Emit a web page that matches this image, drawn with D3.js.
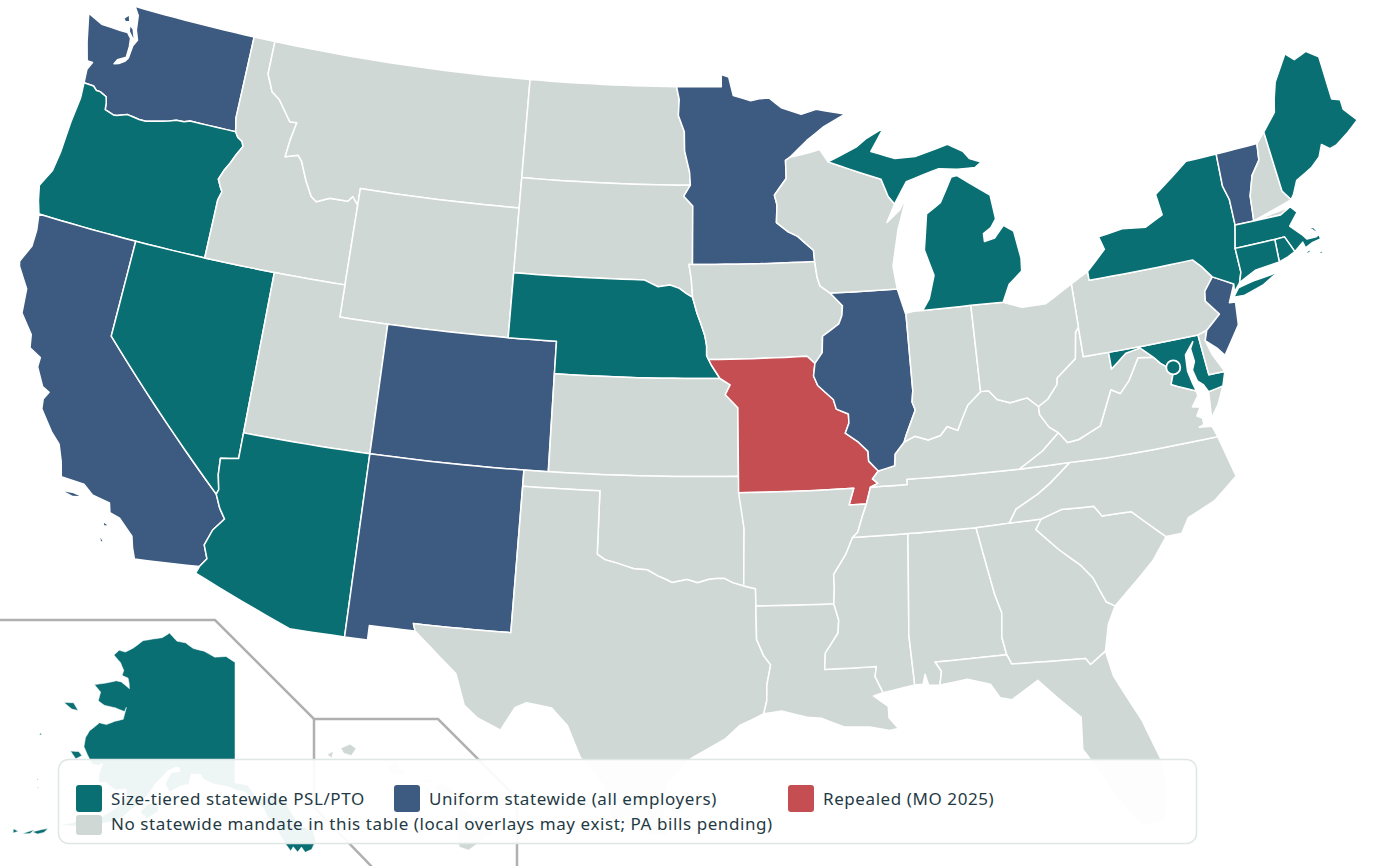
<!DOCTYPE html>
<html>
<head>
<meta charset="utf-8">
<script src="https://cdn.jsdelivr.net/npm/d3@7"></script>
<style>
  html, body { margin: 0; background: #fff; }
  svg { display: block; }
  text { font-family: "Noto Sans", sans-serif; }
</style>
</head>
<body>
<svg id="map" width="1400" height="866"></svg>
<script>
// status lists, from the legend
const sizeTiered = ["OR","NV","AZ","NE","MI","NY","MA","CT","RI","ME","MD","AK","DC"];
const uniform = ["WA","CA","CO","NM","MN","IL","VT","NJ"];
const repealed = ["MO"];

const legendLabels = [
  "Size-tiered statewide PSL/PTO",
  "Uniform statewide (all employers)",
  "Repealed (MO 2025)",
  "No statewide mandate in this table (local overlays may exist; PA bills pending)"
];

// shared borders, lon/lat
const columbia = [[-124.0,46.27],[-123.55,46.26],[-123.37,46.15],[-123.2,46.15],[-122.88,46.05],[-122.8,45.87],[-122.76,45.66],[-122.35,45.57],[-122.2,45.58],[-121.75,45.7],[-121.2,45.65],[-120.9,45.65],[-120.5,45.72],[-119.9,45.84],[-119.6,45.92],[-119.25,45.93],[-119.0,46.0],[-116.92,46.0]];
const snake = [[-116.92,46.0],[-116.78,45.85],[-116.55,45.75],[-116.46,45.6],[-116.67,45.32],[-116.85,45.02],[-117.05,44.75],[-117.2,44.45],[-117.05,44.24],[-116.93,44.1],[-117.03,43.83],[-117.03,42.0]];
const bitterroot = [[-116.05,49.0],[-116.05,47.97],[-115.7,47.45],[-115.3,47.25],[-114.95,46.93],[-114.65,46.65],[-114.33,46.66],[-114.47,46.1],[-114.55,45.56],[-114.0,45.68],[-113.8,45.52],[-113.45,44.95],[-113.1,44.5],[-112.85,44.37],[-112.3,44.55],[-111.5,44.55],[-111.32,44.72],[-111.05,44.48]];
const redNorth = [[-97.23,49.0],[-97.1,48.6],[-97.13,48.1],[-96.85,47.6],[-96.83,47.0],[-96.6,46.35],[-96.56,45.94]];
const mnDakota = [[-96.56,45.94],[-96.85,45.6],[-96.45,45.3],[-96.45,43.5]];
const bigSioux = [[-96.45,43.5],[-96.6,43.5],[-96.5,43.05],[-96.44,42.49]];
const niobrara = [[-104.05,43.0],[-98.5,43.0],[-97.9,42.8],[-97.4,42.86],[-97.0,42.76],[-96.7,42.6],[-96.44,42.49]];
const missouriIa = [[-96.44,42.49],[-96.25,42.0],[-96.1,41.7],[-95.92,41.3],[-95.85,41.0],[-95.85,40.7],[-95.77,40.58]];
const missouriNe = [[-95.77,40.58],[-95.65,40.4],[-95.31,40.0]];
const missouriKs = [[-95.31,40.0],[-94.9,39.8],[-95.1,39.5],[-94.6,39.1]];
const stCroix = [[-92.1,46.75],[-92.3,46.66],[-92.3,46.1],[-92.85,45.6],[-92.75,45.3],[-92.8,44.75],[-92.3,44.45],[-91.9,44.3],[-91.25,43.85],[-91.22,43.5]];
const missWiIa = [[-91.22,43.5],[-91.15,43.0],[-91.05,42.75],[-90.64,42.51]];
const missIlIa = [[-90.64,42.51],[-90.15,42.1],[-90.2,41.8],[-90.35,41.55],[-91.05,41.2],[-91.1,40.7],[-91.42,40.38]];
const missIlMo = [[-91.42,40.38],[-91.5,40.0],[-91.35,39.7],[-90.75,39.25],[-90.65,38.95],[-90.18,38.78],[-90.18,38.5],[-90.35,38.2],[-89.85,37.9],[-89.5,37.6],[-89.5,37.3],[-89.15,36.98]];
const missKyMo = [[-89.15,36.98],[-89.4,36.75],[-89.2,36.6],[-89.5,36.5]];
const missTnAr = [[-89.5,36.5],[-89.7,36.0],[-89.9,35.6],[-90.1,35.15],[-90.31,35.0]];
const missMsAr = [[-90.31,35.0],[-90.6,34.5],[-91.1,33.9],[-91.1,33.5],[-91.15,33.0]];
const missMsLa = [[-91.15,33.0],[-91.0,32.5],[-91.05,32.1],[-91.55,31.5],[-91.6,31.0]];
const moBoot = [[-89.5,36.5],[-89.7,36.0],[-90.37,36.0],[-90.15,36.5]];
const wabash = [[-87.53,41.72],[-87.53,39.35],[-87.6,39.0],[-87.5,38.75],[-87.95,38.0],[-88.05,37.8]];
const ohioKyIl = [[-89.15,36.98],[-88.5,37.1],[-88.45,37.45],[-88.05,37.8]];
const ohioKyIn = [[-88.05,37.8],[-87.6,37.95],[-87.1,37.8],[-86.6,37.9],[-86.3,38.15],[-85.9,38.0],[-85.7,38.3],[-85.4,38.73],[-84.82,39.1]];
const ohioKyOh = [[-84.82,39.1],[-84.5,39.1],[-84.2,38.8],[-83.7,38.65],[-83.0,38.73],[-82.6,38.42]];
const ohioOhWv = [[-82.6,38.42],[-82.2,38.6],[-81.75,39.0],[-81.7,39.2],[-80.85,39.7],[-80.67,40.5],[-80.52,40.64]];
const bigSandy = [[-82.6,38.42],[-82.6,38.17],[-82.3,37.75],[-81.97,37.54]];
const vaWv = [[-81.97,37.54],[-81.67,37.2],[-81.22,37.24],[-80.3,37.55],[-79.65,38.58],[-79.3,38.42],[-78.87,38.76],[-78.35,39.4],[-77.73,39.32]];
const potomacWv = [[-77.73,39.32],[-78.2,39.68],[-78.8,39.6],[-79.48,39.2],[-79.48,39.72]];
const potomacVa = [[-77.73,39.32],[-77.5,39.1],[-77.04,38.8],[-77.25,38.4],[-77.0,38.3],[-76.32,38.05]];
const kyVa = [[-81.97,37.54],[-82.7,37.05],[-83.68,36.6]];
const kyTn = [[-83.68,36.6],[-88.07,36.66],[-88.07,36.5],[-89.5,36.5]];
const vaTn = [[-83.68,36.6],[-81.7,36.59]];
const vaNc = [[-81.7,36.59],[-80.3,36.55],[-75.87,36.55]];
const ncTn = [[-81.7,36.59],[-82.6,36.03],[-83.1,35.77],[-84.0,35.4],[-84.32,35.0]];
const ncSc = [[-83.1,35.0],[-82.3,35.2],[-81.05,35.15],[-80.8,34.82],[-79.68,34.8],[-78.55,33.86]];
const savannah = [[-83.1,35.0],[-83.35,34.7],[-82.6,34.0],[-81.9,33.45],[-81.5,33.0],[-81.15,32.2],[-80.85,32.03]];
const chattahoochee = [[-85.6,34.98],[-85.18,32.87],[-85.0,32.3],[-85.1,31.55],[-85.0,31.0]];
const flSouth = [[-87.6,31.0],[-85.0,31.0],[-84.86,30.7],[-82.2,30.57],[-82.05,30.36],[-81.45,30.7]];
const perdido = [[-87.6,31.0],[-87.4,30.7],[-87.5,30.28]];
const alMs = [[-88.2,35.0],[-88.47,31.9],[-88.4,30.35]];
const tnSouth = [[-90.31,35.0],[-88.2,35.0],[-85.6,34.98],[-84.32,35.0],[-83.1,35.0]];
const pearl = [[-91.6,31.0],[-89.73,31.0],[-89.8,30.7],[-89.55,30.18]];
const sabine = [[-94.04,33.02],[-94.04,31.99],[-93.8,31.5],[-93.55,31.2],[-93.7,30.6],[-93.72,30.1],[-93.84,29.7]];
const redTx = [[-94.48,33.64],[-94.9,33.75],[-95.2,33.88],[-95.5,33.88],[-95.8,33.85],[-96.2,33.75],[-96.6,33.85],[-97.15,33.75],[-97.4,33.85],[-97.7,33.95],[-98.1,34.13],[-98.6,34.15],[-99.2,34.3],[-99.7,34.4],[-100.0,34.56]];
const coloradoAz = [[-114.72,32.72],[-114.5,33.0],[-114.7,33.4],[-114.5,33.9],[-114.14,34.3],[-114.4,34.6],[-114.63,35.0]];
const coloradoNv = [[-114.63,35.0],[-114.57,35.15],[-114.7,35.6],[-114.74,36.1],[-114.05,36.2]];
const vtNh = [[-71.5,45.01],[-71.6,44.5],[-72.05,44.1],[-72.35,43.5],[-72.46,42.73]];
const vtNy = [[-73.27,42.75],[-73.25,43.55],[-73.4,44.0],[-73.34,45.01]];
const nyCt = [[-73.65,41.0],[-73.5,41.3],[-73.5,42.05]];
const maNorth = [[-73.27,42.75],[-72.46,42.73],[-71.3,42.7],[-70.82,42.87]];
const meNh = [[-71.08,45.3],[-70.98,43.4],[-70.7,43.07]];
const delRiver = [[-74.7,41.36],[-75.13,40.98],[-75.2,40.68],[-74.75,40.2],[-75.4,39.8]];
const paNy = [[-79.76,42.27],[-79.76,42.0],[-75.35,42.0],[-75.05,41.75],[-74.7,41.36]];
const mdDe = [[-75.79,39.72],[-75.7,38.46],[-75.05,38.45]];
const miWi = [[-90.4,46.55],[-89.0,46.15],[-88.1,45.9],[-87.85,45.35],[-87.6,45.1]];

function rev(chain) { return chain.slice().reverse(); }
function ring(...chains) { return [].concat(...chains); }

const lower48 = {
  WA: [ring([[-124.0,46.27],[-124.05,46.7],[-123.9,46.95],[-124.15,46.95],[-124.4,47.5],[-124.72,48.38],[-124.0,48.17],[-123.1,48.15],[-122.75,48.15],[-122.55,48.0],[-122.5,47.75],[-122.5,47.4],[-122.85,47.25],[-122.95,47.1],[-122.75,47.15],[-122.5,47.28],[-122.4,47.4],[-122.36,47.8],[-122.22,48.0],[-122.4,48.3],[-122.5,48.75],[-122.76,49.0],[-117.04,49.0],[-117.04,46.42]], rev(columbia)),
     [[-122.75,48.4],[-122.55,48.3],[-122.4,48.05],[-122.35,47.95],[-122.5,48.05],[-122.7,48.2]],
     [[-123.1,48.55],[-122.9,48.7],[-122.8,48.5],[-123.0,48.45]]],
  OR: [ring(columbia, snake, [[-120,42.0],[-124.21,42.0],[-124.4,42.4],[-124.55,42.85],[-124.2,43.4],[-124.1,44.0],[-124.05,45.0],[-123.95,45.8]])],
  CA: [ring([[-124.21,42.0],[-120,42.0],[-120,39.0]], [[-114.63,35.0]], rev(coloradoAz), [[-117.12,32.53],[-117.28,32.85],[-117.4,33.2],[-118.0,33.65],[-118.4,33.75],[-118.5,34.03],[-119.2,34.15],[-119.6,34.4],[-120.5,34.45],[-120.65,34.9],[-120.9,35.4],[-121.3,35.7],[-121.9,36.3],[-121.95,36.6],[-121.8,36.85],[-122.1,36.96],[-122.5,37.5],[-122.5,37.8],[-123.0,38.0],[-123.1,38.4],[-123.7,38.95],[-123.8,39.7],[-124.35,40.3],[-124.4,40.45],[-124.1,41.0],[-124.1,41.5]]),
     [[-120.4,34.05],[-119.9,34.08],[-119.5,34.02],[-119.9,33.95]],[[-118.6,33.45],[-118.3,33.35],[-118.5,33.3]],[[-118.6,33.05],[-118.35,32.8],[-118.5,32.82]]],
  NV: [ring([[-120,42.0],[-114.05,42.0],[-114.05,36.2]], rev(coloradoNv), [[-120,39.0]])],
  ID: [ring([[-117.04,49.0]], bitterroot, [[-111.05,42.0]], rev(snake), [[-117.04,46.42]])],
  MT: [ring(bitterroot, [[-111.05,45.0],[-104.05,45.0],[-104.05,49.0]])],
  WY: [[[-111.05,45.0],[-104.05,45.0],[-104.05,41.0],[-111.05,41.0]]],
  UT: [[[-114.05,42.0],[-111.05,42.0],[-111.05,41.0],[-109.05,41.0],[-109.05,37.0],[-114.05,37.0]]],
  CO: [[[-109.05,41.0],[-102.05,41.0],[-102.05,37.0],[-109.05,37.0]]],
  AZ: [ring([[-114.05,37.0],[-109.05,37.0],[-109.05,31.33],[-111.07,31.33],[-114.81,32.5]], coloradoAz, coloradoNv)],
  NM: [[[-109.05,37.0],[-103.0,37.0],[-103.04,32.0],[-106.62,32.0],[-106.53,31.78],[-108.21,31.78],[-108.21,31.33],[-109.05,31.33]]],
  ND: [ring([[-104.05,49.0]], redNorth, [[-104.05,45.94]])],
  SD: [ring([[-104.05,45.94]], mnDakota, bigSioux, rev(niobrara), [[-104.05,45.0]])],
  NE: [ring(niobrara, missouriIa, missouriNe, [[-102.05,40.0],[-102.05,41.0],[-104.05,41.0]])],
  KS: [ring([[-102.05,40.0]], missouriKs, [[-94.62,37.0],[-102.04,37.0]])],
  OK: [ring([[-103.0,37.0],[-94.62,37.0],[-94.43,35.4]], redTx, [[-100.0,36.5],[-103.0,36.5]])],
  TX: [ring([[-103.0,36.5],[-100.0,36.5]], rev(redTx), [[-94.04,33.55]], sabine, [[-94.2,29.55],[-94.7,29.35],[-95.2,28.95],[-96.4,28.35],[-97.2,27.6],[-97.4,26.9],[-97.15,25.96],[-97.6,25.9],[-98.3,26.1],[-99.1,26.4],[-99.5,27.5],[-100.3,28.3],[-100.8,29.25],[-101.4,29.77],[-102.3,29.88],[-102.7,29.7],[-103.15,28.98],[-104.0,29.3],[-104.5,29.65],[-104.9,30.6],[-106.0,31.4],[-106.53,31.78],[-106.62,32.0],[-103.04,32.0]])],
  MN: [ring(stCroix, [[-96.45,43.5]], rev(mnDakota), rev(redNorth), [[-95.15,49.0],[-95.15,49.38],[-94.8,49.3],[-94.6,48.72],[-93.8,48.55],[-93.4,48.6],[-92.95,48.62],[-92.4,48.3],[-91.5,48.07],[-90.8,48.2],[-89.5,48.0],[-90.5,47.65],[-91.3,47.25]])],
  IA: [ring([[-96.45,43.5]], [[-91.22,43.5]], missWiIa, missIlIa, [[-91.73,40.61]], rev(missouriIa), rev(bigSioux))],
  MO: [ring([[-91.73,40.61],[-95.77,40.58]], missouriNe, missouriKs, [[-94.62,36.5]], rev(moBoot).slice(0,3), rev(missKyMo), rev(missIlMo))],
  AR: [ring([[-94.62,36.5]], rev(moBoot).slice(0,2), [[-89.7,36.0]], missTnAr.slice(2), missMsAr, [[-94.04,33.02],[-94.04,33.55],[-94.48,33.64],[-94.43,35.4]])],
  LA: [ring(sabine, [[-93.2,29.77],[-92.3,29.55],[-91.8,29.5],[-91.0,29.2],[-90.1,29.15],[-89.4,29.0],[-89.1,29.05],[-89.4,29.4],[-89.4,29.75],[-89.9,30.1]], rev(pearl), rev(missMsLa))],
  MS: [ring(missMsAr, missMsLa, pearl, rev(alMs))],
  AL: [ring(alMs, [[-88.1,30.35],[-88.0,30.65],[-87.9,30.3]], rev(perdido), flSouth.slice(0,2), rev(chattahoochee))],
  TN: [ring(tnSouth.slice(0,4), rev(ncTn), rev(vaTn), kyTn, missTnAr.slice(1))],
  KY: [ring(kyVa, kyTn, rev(missKyMo), ohioKyIl, ohioKyIn, ohioKyOh, bigSandy)],
  GA: [ring(chattahoochee, flSouth.slice(1), [[-81.2,31.5]], rev(savannah), rev(tnSouth.slice(2)))],
  FL: [ring(flSouth, [[-81.3,29.9],[-80.55,28.4],[-80.05,26.9],[-80.15,25.75],[-80.4,25.2],[-81.1,25.15],[-81.8,26.1],[-82.2,26.9],[-82.75,27.8],[-82.65,28.8],[-83.4,29.5],[-84.0,30.1],[-85.0,29.6],[-85.4,29.7],[-85.7,30.15],[-86.5,30.38]], rev(perdido))],
  SC: [ring(ncSc, [[-79.2,33.2],[-79.9,32.7]], rev(savannah))],
  NC: [ring(rev(ncTn), vaNc, [[-75.5,35.25],[-76.5,34.65],[-77.6,34.3],[-77.95,33.87]], rev(ncSc), rev(tnSouth.slice(3)))],
  VA: [ring(rev(kyVa), vaWv, potomacVa, [[-76.3,37.9],[-76.6,37.6],[-76.3,37.55],[-76.5,37.3],[-76.3,37.2],[-76.3,37.0],[-76.5,36.95],[-76.0,36.9]], rev(vaNc), rev(vaTn)),
     [[-75.25,38.03],[-75.85,37.95],[-75.95,37.15],[-75.6,37.5]]],
  WV: [ring(bigSandy, vaWv, potomacWv, [[-80.52,39.72]], rev(ohioOhWv))],
  MD: [ring(rev(potomacWv), potomacVa, [[-76.4,38.3],[-76.5,38.7],[-76.45,39.2],[-76.05,39.55],[-76.2,39.35],[-76.15,38.95],[-76.3,38.7],[-76.2,38.35],[-76.0,38.2],[-75.85,37.95],[-75.25,38.03]], rev(mdDe))],
  DE: [ring(mdDe, [[-75.4,39.05],[-75.55,39.5],[-75.4,39.8]])],
  PA: [ring([[-80.52,41.98]], paNy, delRiver, [[-75.79,39.72],[-79.48,39.72],[-80.52,39.72],[-80.52,40.64]])],
  NJ: [ring(delRiver, [[-75.55,39.5],[-75.15,39.2],[-74.9,38.93],[-74.1,39.75],[-74.0,40.45],[-74.25,40.47],[-73.9,41.0]])],
  NY: [ring(paNy, [[-73.9,41.0],[-73.95,40.75],[-73.65,41.0]], nyCt, [[-73.27,42.75]], vtNy.slice(1), [[-74.7,45.0],[-75.8,44.45],[-76.3,44.2],[-76.2,43.55],[-77.0,43.28],[-78.0,43.37],[-79.05,43.26],[-78.9,42.85]]),
     [[-74.03,40.6],[-73.6,40.58],[-72.75,40.75],[-71.9,41.07],[-72.3,41.0],[-72.6,40.98],[-73.1,40.95],[-73.75,40.85]]],
  VT: [ring(vtNy, vtNh, [[-73.27,42.75]])],
  NH: [ring(vtNh, rev(maNorth.slice(1)), rev(meNh))],
  ME: [ring(meNh, [[-70.55,43.2],[-70.25,43.6],[-69.8,43.75],[-69.5,43.85],[-69.05,44.1],[-68.8,44.45],[-68.5,44.25],[-68.2,44.3],[-67.6,44.55],[-67.0,44.85],[-67.45,45.3],[-67.45,45.6],[-67.8,45.7],[-67.8,47.07],[-68.3,47.35],[-68.9,47.2],[-69.23,47.46],[-70.0,46.7],[-70.25,46.2],[-70.4,45.8]])],
  MA: [ring([[-73.5,42.05]], maNorth, [[-70.6,42.65],[-71.05,42.3],[-70.65,41.95],[-70.5,41.78],[-70.1,41.77],[-70.0,41.8],[-70.05,41.9],[-70.25,42.07],[-70.1,42.07],[-69.95,41.85],[-69.95,41.67],[-70.3,41.63],[-70.65,41.53],[-70.7,41.72],[-71.12,41.5],[-71.2,41.67],[-71.38,42.02],[-71.8,42.02]]),
     [[-70.8,41.35],[-70.5,41.45],[-70.5,41.35]],[[-70.25,41.3],[-69.97,41.3],[-70.05,41.22]]],
  RI: [[[-71.8,42.02],[-71.38,42.02],[-71.2,41.67],[-71.12,41.5],[-71.45,41.4],[-71.85,41.32]]],
  CT: [ring([[-73.5,42.05],[-71.8,42.02],[-71.85,41.32],[-72.9,41.25]], nyCt)],
  IL: [ring(missIlIa, missIlMo, ohioKyIl, rev(wabash), [[-87.55,41.72],[-87.8,42.49]])],
  IN: [ring(wabash, ohioKyIn, [[-84.8,41.76],[-86.82,41.76],[-87.2,41.76]])],
  OH: [ring([[-84.8,41.76],[-83.45,41.73],[-82.7,41.5],[-81.7,41.5],[-80.52,41.98]], rev(ohioOhWv), rev(ohioKyOh))],
  WI: [ring(stCroix, missWiIa, [[-87.8,42.49],[-87.9,43.2],[-87.55,44.3],[-87.05,45.3],[-87.4,44.9],[-88.0,44.55]], rev(miWi), [[-90.75,46.95],[-91.2,46.87]])],
  MI: [ring([[-84.8,41.76],[-86.82,41.76],[-86.5,42.1],[-86.2,42.8],[-86.5,43.6],[-86.25,44.7],[-85.6,45.0],[-85.0,45.75],[-84.75,45.78],[-83.4,45.05],[-83.3,44.3],[-83.55,44.05],[-83.9,43.9],[-83.9,43.65],[-83.45,43.72],[-83.0,44.07],[-82.6,43.85],[-82.45,43.0],[-82.5,42.6],[-83.1,42.25],[-83.45,41.73]]),
     ring(miWi, [[-87.0,45.75],[-86.3,45.9],[-85.5,46.05],[-84.7,45.97],[-83.9,45.95],[-83.6,46.1],[-84.1,46.25],[-84.35,46.5],[-85.0,46.77],[-86.5,46.5],[-87.4,46.5],[-88.45,46.78],[-88.1,47.15],[-87.8,47.47],[-88.6,47.2],[-89.1,46.95]]),
     [[-89.2,47.85],[-88.45,48.15],[-88.9,47.95]]]
};

const alaska = [
  [[-141,69.65],[-143,70.1],[-145.5,70],[-148,70.4],[-150.5,70.5],[-152.5,70.85],[-154.5,70.85],[-156.6,71.35],[-158,70.85],[-160,70.55],[-162,70.2],[-163.5,69.4],[-164.8,68.9],[-166.2,68.85],[-166.8,68.35],[-165,68],[-163.8,67.5],[-163.8,67.1],[-162.5,67.05],[-162,66.7],[-161.6,66.3],[-163.5,66.6],[-164.5,66.55],[-166.2,66.1],[-168.1,65.65],[-166.5,65.3],[-166.3,64.6],[-165,64.45],[-163,64.55],[-161.2,64.5],[-161.1,64.85],[-161,63.9],[-162.3,63.55],[-163.5,63.1],[-164.7,63.05],[-165.8,62.2],[-166,61.6],[-165.7,60.9],[-164.7,60.4],[-163.5,59.85],[-162.5,59.95],[-162,60.2],[-162,59.2],[-161.7,58.7],[-160.7,58.85],[-159,58.5],[-157.5,58.8],[-157.2,58.2],[-157.6,57.6],[-158.5,57],[-160,56.1],[-161.8,55.9],[-163.3,55.1],[-164.9,54.6],[-163,54.9],[-161.5,55.2],[-160,55.6],[-158.5,56],[-157,56.6],[-156,57.4],[-155,58],[-153.9,59],[-153.4,59.6],[-152.6,60.2],[-151.8,60.8],[-150.5,61.2],[-150,61.2],[-149.8,60.9],[-151.2,60.7],[-151.8,59.8],[-151,59.2],[-149.5,59.8],[-148.2,60],[-148,60.8],[-146.5,60.85],[-146,60.5],[-144.5,60.2],[-142,60],[-140.8,59.75],[-139.5,59.6],[-138,58.95],[-136.7,58.2],[-136.4,57.7],[-135.5,57],[-134.8,56.2],[-134,55.3],[-133.5,54.8],[-133.1,55.1],[-132.6,54.65],[-132,55],[-131.6,54.55],[-130.7,54.7],[-130,55.3],[-130.1,56.1],[-131.8,56.65],[-133.4,58.4],[-135,59.5],[-137,59],[-137.5,58.9],[-139,60.1],[-141,60.3]],
  [[-154.7,57.3],[-153.9,58.0],[-152.4,58.3],[-152.2,57.6],[-153.6,56.9]],
  [[-171.7,63.4],[-170.2,63.7],[-168.9,63.3],[-170,63.2]],
  [[-167.4,60.2],[-166.2,60.4],[-165.5,60.2],[-166.2,59.8]],
  [[-172.9,60.5],[-172.6,60.4],[-172.9,60.3]],
  [[-170.3,57.2],[-170.1,57.2],[-170.2,57.1]],
  [[-169.7,56.62],[-169.5,56.62],[-169.6,56.55]],
  [[-167.9,53.3],[-166.9,53.75],[-166.2,54.0],[-166.5,53.6],[-167.2,53.3]],
  [[-169.0,52.85],[-168.2,53.3],[-167.8,53.5],[-168.1,53.1]],
  [[-170.3,52.9],[-169.6,52.9],[-170.1,52.6]],
  [[-174.4,52.4],[-173,52.5],[-174.2,52.1]],
  [[-177,52],[-176,52],[-176.6,51.7]],
  [[-178.2,51.9],[-177.4,51.9],[-177.8,51.7]]
];

const hawaii = [
  [[-159.8,22.1],[-159.5,22.23],[-159.3,22.1],[-159.45,21.88],[-159.7,21.95]],
  [[-160.25,21.9],[-160.05,22.0],[-160.1,21.8]],
  [[-158.28,21.55],[-157.98,21.7],[-157.65,21.3],[-158.1,21.3]],
  [[-157.3,21.1],[-156.75,21.18],[-156.85,21.05],[-157.3,21.07]],
  [[-157.05,20.9],[-156.85,20.92],[-156.85,20.75],[-157.05,20.75]],
  [[-156.7,20.9],[-156.5,21.03],[-156.2,20.9],[-156.05,20.7],[-156.4,20.58],[-156.65,20.8]],
  [[-156.05,19.75],[-155.85,20.27],[-155.1,19.85],[-154.82,19.5],[-155.6,18.95],[-155.9,19.05]]
];

const width = 1400, height = 866;
const k = 1855;
const cx = 688, cy = 421;

const proj48 = d3.geoConicEqualArea().rotate([96, 0]).center([-0.6, 38.7]).parallels([29.5, 45.5]).scale(k).translate([cx, cy]);
const projAk = d3.geoConicEqualArea().rotate([141, 0]).center([0, 65]).parallels([55, 65]).scale(740).translate([235, 722]);
const projHi = d3.geoConicEqualArea().rotate([157, 0]).center([-3, 19.9]).parallels([8, 18]).scale(k).translate([334, 819]);

// long straight edges follow the parallels, so split them before projecting
function dense(r) {
  const out = [];
  r.forEach((p, i) => {
    const q = r[(i + 1) % r.length];
    const n = Math.max(1, Math.ceil(Math.max(Math.abs(q[0] - p[0]), Math.abs(q[1] - p[1])) / 0.5));
    for (let j = 0; j < n; j++) out.push([p[0] + (q[0] - p[0]) * j / n, p[1] + (q[1] - p[1]) * j / n]);
  });
  out.push(out[0]);
  // d3 wants clockwise exteriors
  if (d3.geoArea({type: "Polygon", coordinates: [out]}) > 2 * Math.PI) out.reverse();
  return out;
}
function feature(name, rings) {
  return {type: "Feature", id: name, geometry: {type: "MultiPolygon", coordinates: rings.map(r => [dense(r)])}};
}
function statusColor(name) {
  if (sizeTiered.includes(name)) return colors.tiered;
  if (uniform.includes(name)) return colors.uniform;
  if (repealed.includes(name)) return colors.repealed;
  return colors.none;
}
const colors = {tiered: "#0a6f73", uniform: "#3d5a80", repealed: "#c44e52", none: "#d0d8d6"};

const svg = d3.select("#map");

// inset borders
const insetLine = d3.line();
svg.append("g").attr("fill", "none").attr("stroke", "#b0b0b0").attr("stroke-width", 2.5)
  .selectAll("path")
  .data([
    [[-5,620],[215,620],[314,719],[438,719],[517,798],[517,870]],
    [[314,719],[314,807],[375,870]]
  ])
  .join("path").attr("d", insetLine);

const states = Object.keys(lower48).map(n => feature(n, lower48[n]));
const mapG = svg.append("g").attr("stroke", "#fff").attr("stroke-width", 1.5).attr("stroke-linejoin", "round");

mapG.selectAll("path.s48").data(states).join("path").attr("class", "s48")
  .attr("fill", d => statusColor(d.id))
  .attr("d", d3.geoPath(proj48));
mapG.append("path").datum(feature("AK", alaska)).attr("fill", statusColor("AK")).attr("stroke-width", 0.5).attr("d", d3.geoPath(projAk));
mapG.append("path").datum(feature("HI", hawaii)).attr("fill", statusColor("HI")).attr("stroke-width", 0.5).attr("d", d3.geoPath(projHi));

// DC is too small to see, so it gets a marker
const dc = proj48([-77.03, 38.9]);
svg.append("circle").attr("cx", dc[0]).attr("cy", dc[1]).attr("r", 7)
  .attr("fill", statusColor("DC")).attr("stroke", "#fff").attr("stroke-width", 1.8);

// legend
const legend = svg.append("g");
legend.append("rect").attr("x", 58.5).attr("y", 759.5).attr("width", 1138).attr("height", 84).attr("rx", 10)
  .attr("fill", "rgba(255,255,255,0.93)").attr("stroke", "#dfe7e6").attr("stroke-width", 1.5);
const legendItems = [
  {label: legendLabels[0], color: colors.tiered, x: 76, y: 785, h: 27},
  {label: legendLabels[1], color: colors.uniform, x: 394, y: 785, h: 27},
  {label: legendLabels[2], color: colors.repealed, x: 788, y: 785, h: 27},
  {label: legendLabels[3], color: colors.none, x: 76, y: 815, h: 20}
];
const item = legend.selectAll("g").data(legendItems).join("g");
item.append("rect").attr("x", d => d.x).attr("y", d => d.y).attr("width", 26).attr("height", d => d.h).attr("rx", 3)
  .attr("fill", d => d.color);
item.append("text").attr("x", d => d.x + 35).attr("y", (d, i) => i < 3 ? 805 : 830)
  .attr("font-size", 17).attr("letter-spacing", 0.58).attr("fill", "#1f3a44").text(d => d.label);
</script>
</body>
</html>
